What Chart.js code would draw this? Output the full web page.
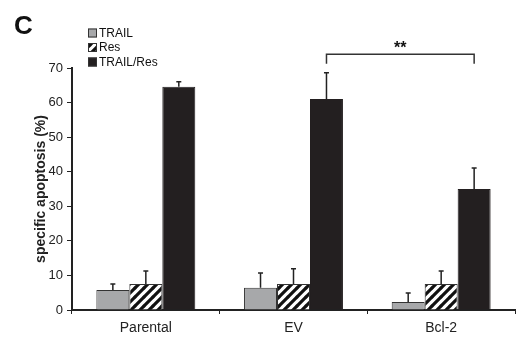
<!DOCTYPE html>
<html>
<head>
<meta charset="utf-8">
<script src="https://cdn.jsdelivr.net/npm/chart.js@4"></script>
<style>
    body { margin: 0; background: #fff; }
</style>
</head>
<body>
<canvas id="apoptosisChart" width="523" height="337"></canvas>
<script>
// ---------------- Data ----------------
const categories = ['Parental', 'EV', 'Bcl-2'];
const seriesNames = ['TRAIL', 'Res', 'TRAIL/Res'];
const trailVals = [5.8, 6.4, 2.3];
const trailErr = [1.7, 4.3, 2.6];
const resVals = [7.5, 7.5, 7.5];
const resErr = [3.8, 4.4, 3.8];
const trailResVals = [64.6, 61.0, 35.0];
const trailResErr = [1.4, 7.6, 6.1];
const yTicks = [0, 10, 20, 30, 40, 50, 60, 70];
const bracket = { from: 'EV', to: 'Bcl-2', level: 74, drop: 2.8, label: '**' };

const FONT = "'Liberation Sans', Arial, sans-serif";

// diagonal hatch for the Res bars
function makeHatch() {
    const s = 9;
    const c = document.createElement('canvas');
    c.width = s; c.height = s;
    const g = c.getContext('2d');
    g.fillStyle = '#fff';
    g.fillRect(0, 0, s, s);
    g.strokeStyle = '#111';
    g.lineWidth = 3.2;
    g.beginPath();
    g.moveTo(-1, s + 1); g.lineTo(s + 1, -1);
    g.moveTo(-1, 1); g.lineTo(1, -1);
    g.moveTo(s - 1, s + 1); g.lineTo(s + 1, s - 1);
    g.stroke();
    return g.createPattern(c, 'repeat');
}
const hatch = makeHatch();

const errors = [trailErr, resErr, trailResErr];

// ---------------- Extras: label, legend, error bars, bracket ----------------
const extras = {
    id: 'extras',
    afterDatasetsDraw(chart) {
        const ctx = chart.ctx;
        const y = chart.scales.y;
        ctx.save();

        // error bars
        ctx.strokeStyle = '#222';
        ctx.lineWidth = 1.5;
        chart.data.datasets.forEach((ds, i) => {
            const meta = chart.getDatasetMeta(i);
            meta.data.forEach((bar, j) => {
                const top = y.getPixelForValue(ds.data[j] + errors[i][j]);
                ctx.beginPath();
                ctx.moveTo(bar.x, bar.y);
                ctx.lineTo(bar.x, top);
                ctx.moveTo(bar.x - 2.5, top);
                ctx.lineTo(bar.x + 2.5, top);
                ctx.stroke();
            });
        });

        // significance bracket
        const meta = chart.getDatasetMeta(2);
        const x1 = meta.data[categories.indexOf(bracket.from)].x;
        const x2 = meta.data[categories.indexOf(bracket.to)].x;
        const by = y.getPixelForValue(bracket.level);
        const bd = y.getPixelForValue(bracket.level - bracket.drop);
        ctx.strokeStyle = '#333';
        ctx.lineWidth = 1.5;
        ctx.beginPath();
        ctx.moveTo(x1, bd); ctx.lineTo(x1, by); ctx.lineTo(x2, by); ctx.lineTo(x2, bd);
        ctx.stroke();
        ctx.fillStyle = '#111';
        ctx.font = 'bold 16px ' + FONT;
        ctx.textAlign = 'center';
        ctx.textBaseline = 'alphabetic';
        ctx.fillText(bracket.label, (x1 + x2) / 2, by - 1);

        // panel letter
        ctx.textAlign = 'left';
        ctx.font = 'bold 26px ' + FONT;
        ctx.fillText('C', 14, 34);

        // legend
        ctx.font = '12px ' + FONT;
        ctx.textBaseline = 'middle';
        chart.data.datasets.forEach((ds, i) => {
            const cy = 33 + i * 14.5;
            ctx.fillStyle = ds.backgroundColor;
            ctx.fillRect(88, cy - 4.5, 9, 9);
            ctx.strokeStyle = '#333';
            ctx.lineWidth = 1;
            ctx.strokeRect(88.5, cy - 4, 8, 8);
            ctx.fillStyle = '#111';
            ctx.fillText(ds.label, 99, cy + 0.5);
        });
        ctx.restore();
    }
};

const ctx = document.getElementById('apoptosisChart').getContext('2d');
new Chart(ctx, {
    type: 'bar',
    data: {
        labels: categories,
        datasets: [
            { label: seriesNames[0], data: trailVals, backgroundColor: '#a7a8aa', borderColor: '#333', borderWidth: 1 },
            { label: seriesNames[1], data: resVals, backgroundColor: hatch, borderColor: '#333', borderWidth: 1 },
            { label: seriesNames[2], data: trailResVals, backgroundColor: '#231f20', borderColor: '#231f20', borderWidth: 1 }
        ]
    },
    options: {
        responsive: false,
        animation: false,
        categoryPercentage: 0.67,
        barPercentage: 1.0,
        layout: { padding: { left: 0, top: 68, right: 8, bottom: 0 } },
        plugins: { legend: { display: false }, tooltip: { enabled: false } },
        scales: {
            x: {
                grid: { drawOnChartArea: false, drawTicks: true, tickLength: 4, color: '#222', offset: true },
                border: { display: true, color: '#222', width: 2 },
                ticks: { color: '#222', font: { family: FONT, size: 14 }, padding: 6 },
                afterFit: s => { s.height = 27; }
            },
            y: {
                min: 0,
                max: 70,
                afterBuildTicks: s => { s.ticks = yTicks.map(v => ({ value: v })); },
                grid: { drawOnChartArea: false, drawTicks: true, tickLength: 5, color: '#222' },
                border: { display: true, color: '#222', width: 2 },
                ticks: { color: '#222', font: { family: FONT, size: 13 }, padding: 4 },
                title: {
                    display: true,
                    text: 'specific apoptosis (%)',
                    color: '#222',
                    font: { family: FONT, size: 14, weight: 'bold' },
                    padding: { top: 33, bottom: 0 }
                },
                afterFit: s => { s.width = 72; }
            }
        }
    },
    plugins: [extras]
});
</script>
</body>
</html>
